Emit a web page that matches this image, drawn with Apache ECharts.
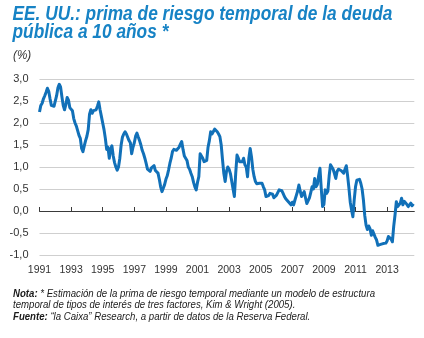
<!DOCTYPE html>
<html>
<head>
<meta charset="utf-8">
<script src="https://cdn.jsdelivr.net/npm/echarts@6/dist/echarts.min.js"></script>
<style>
html,body{margin:0;padding:0;background:#fff;}
#chart{width:424px;height:338px;}
</style>
</head>
<body>
<div id="chart"></div>
<script>
// Monthly series, January 1991 to September 2014 (%)
const startYear = 1991;
const values = [
  // 1991
  2.25, 2.40, 2.45, 2.55, 2.62, 2.70, 2.79, 2.72, 2.55, 2.40, 2.37, 2.38,
  // 1992
  2.38, 2.62, 2.80, 2.88, 2.82, 2.60, 2.40, 2.30, 2.42, 2.58, 2.52, 2.35,
  // 1993
  2.35, 2.28, 2.10, 2.00, 1.93, 1.90, 1.72, 1.65, 1.42, 1.35, 1.48, 1.60,
  // 1994
  1.70, 1.85, 2.20, 2.30, 2.22, 2.28, 2.25, 2.30, 2.38, 2.48, 2.30, 2.15,
  // 1995
  2.00, 1.85, 1.65, 1.40, 1.45, 1.20, 1.40, 1.48, 1.25, 1.10, 1.00, 0.93,
  // 1996
  1.00, 1.20, 1.50, 1.68, 1.75, 1.80, 1.75, 1.72, 1.60, 1.55, 1.30, 1.45,
  // 1997
  1.55, 1.70, 1.77, 1.68, 1.60, 1.50, 1.38, 1.30, 1.20, 1.08, 0.95, 0.92,
  // 1998
  0.90, 0.98, 1.00, 1.03, 0.92, 0.88, 0.86, 0.72, 0.55, 0.44, 0.52, 0.60,
  // 1999
  0.72, 0.80, 0.93, 1.08, 1.20, 1.35, 1.40, 1.42, 1.38, 1.35, 1.45, 1.52,
  // 2000
  1.58, 1.40, 1.25, 1.20, 1.15, 1.00, 0.95, 0.86, 0.78, 0.65, 0.55, 0.48,
  // 2001
  0.65, 0.78, 1.30, 1.25, 1.20, 1.12, 1.08, 1.15, 1.45, 1.60, 1.80, 1.75,
  // 2002
  1.78, 1.86, 1.84, 1.80, 1.75, 1.69, 1.50, 1.16, 0.85, 0.67, 0.90, 1.00,
  // 2003
  0.95, 0.85, 0.82, 0.50, 0.33, 0.85, 1.27, 1.20, 1.12, 1.08, 1.12, 1.20,
  // 2004
  1.05, 1.00, 0.78, 1.20, 1.42, 1.23, 0.95, 0.78, 0.67, 0.62, 0.59, 0.63,
  // 2005
  0.63, 0.63, 0.55, 0.48, 0.33, 0.29, 0.35, 0.40, 0.44, 0.38, 0.30, 0.33,
  // 2006
  0.36, 0.40, 0.48, 0.44, 0.46, 0.40, 0.33, 0.28, 0.25, 0.21, 0.18, 0.14,
  // 2007
  0.20, 0.14, 0.25, 0.35, 0.45, 0.59, 0.45, 0.33, 0.38, 0.44, 0.30, 0.17,
  // 2008
  0.20, 0.30, 0.42, 0.55, 0.50, 0.74, 0.55, 0.60, 0.80, 0.97, 0.50, 0.10,
  // 2009
  0.15, 0.48, 0.40, 0.45, 0.80, 1.05, 1.00, 0.95, 0.85, 0.74, 0.90, 0.95,
  // 2010
  0.97, 0.92, 0.88, 0.86, 0.95, 1.03, 0.80, 0.52, 0.20, 0.02, -0.13, 0.25,
  // 2011
  0.55, 0.70, 0.74, 0.72, 0.63, 0.50, 0.25, -0.10, -0.32, -0.42, -0.34, -0.40,
  // 2012
  -0.55, -0.45, -0.42, -0.60, -0.66, -0.78, -0.81, -0.76, -0.73, -0.74, -0.77, -0.73,
  // 2013
  -0.68, -0.58, -0.55, -0.64, -0.70, -0.35, -0.09, 0.21, 0.10, 0.06, 0.18, 0.29,
  // 2014
  0.14, 0.22, 0.21, 0.15, 0.10, 0.14, 0.18, 0.12, 0.16
];
const yearTicks = [1991, 1993, 1995, 1997, 1999, 2001, 2003, 2005, 2007, 2009, 2011, 2013];
const yTicks = [-1, -0.5, 0, 0.5, 1, 1.5, 2, 2.5, 3];

const titleLine1 = 'EE. UU.: prima de riesgo temporal de la deuda';
const titleLine2 = 'pública a 10 años *';
const unitText = '(%)';
const noteLabel = 'Nota:';
const noteText1 = ' * Estimación de la prima de riesgo temporal mediante un modelo de estructura';
const noteText2 = 'temporal de tipos de interés de tres factores, Kim & Wright (2005).';
const sourceLabel = 'Fuente:';
const sourceText = ' “la Caixa” Research, a partir de datos de la Reserva Federal.';

const seriesData = values.map((v, i) => [startYear + i / 12, v]);

const FONT = '"Liberation Sans", Arial, sans-serif';
const ctx = document.createElement('canvas').getContext('2d');
function measure(text, style, weight, size) {
  ctx.font = style + ' ' + weight + ' ' + size + 'px ' + FONT;
  return ctx.measureText(text).width;
}
// horizontal compression to imitate the condensed typeface
const titleSize = 19.5;
const titleScale = 380 / measure(titleLine1, 'italic', 'bold', titleSize);
const noteSize = 10;
const noteWidth = measure(noteLabel, 'italic', 'bold', noteSize) + measure(noteText1, 'italic', 'normal', noteSize);
const noteScale = 362 / noteWidth;

const titleStyle = {
  fill: '#1783c5', fontSize: titleSize, fontWeight: 'bold', fontStyle: 'italic',
  fontFamily: FONT, verticalAlign: 'top'
};

const chart = echarts.init(document.getElementById('chart'), null, {renderer: 'canvas'});
chart.setOption({
  animation: false,
  backgroundColor: '#ffffff',
  grid: {left: 39.5, right: 9.7, top: 79, bottom: 83, containLabel: false},
  xAxis: [
    {
      type: 'value', min: 1991, max: 2014.72, interval: 2,
      axisLine: {show: true, onZero: true, lineStyle: {color: '#3a3a3a', width: 1}},
      axisTick: {show: true, inside: true, length: 4, customValues: yearTicks, lineStyle: {color: '#3a3a3a'}},
      axisLabel: {show: false},
      splitLine: {show: false}
    },
    {
      type: 'value', min: 1991, max: 2014.72, interval: 2, position: 'bottom',
      axisLine: {show: false, onZero: false},
      axisTick: {show: false},
      axisLabel: {
        show: true, customValues: yearTicks, margin: 10,
        color: '#333', fontSize: 10.5, fontFamily: FONT,
        formatter: v => String(Math.round(v))
      },
      splitLine: {show: false}
    }
  ],
  yAxis: {
    type: 'value', min: -1, max: 3, interval: 0.5,
    axisLine: {show: false},
    axisTick: {show: false},
    axisLabel: {
      margin: 11, color: '#333', fontSize: 11, fontFamily: FONT,
      customValues: yTicks,
      formatter: v => v.toFixed(1).replace('.', ',')
    },
    splitLine: {show: true, lineStyle: {color: '#cfcfcf', width: 1}}
  },
  series: [{
    type: 'line',
    xAxisIndex: 0,
    data: seriesData,
    showSymbol: false,
    symbol: 'none',
    clip: false,
    lineStyle: {color: '#1170b8', width: 3, join: 'round'},
    z: 5
  }],
  graphic: [
    {
      type: 'text', x: 12.5, y: 5, scaleX: titleScale,
      style: Object.assign({text: titleLine1}, titleStyle)
    },
    {
      type: 'text', x: 12.5, y: 22.5, scaleX: titleScale,
      style: Object.assign({text: titleLine2}, titleStyle)
    },
    {
      type: 'text', x: 13, y: 49, scaleX: 0.9,
      style: {text: unitText, fill: '#333', fontSize: 13, fontStyle: 'italic', fontFamily: FONT, verticalAlign: 'top'}
    },
    {
      type: 'text', x: 13, y: 288, scaleX: noteScale,
      style: {
        text: '{b|' + noteLabel + '}{r|' + noteText1 + '}\n{r|' + noteText2 + '}\n{b|' + sourceLabel + '}{r|' + sourceText + '}',
        verticalAlign: 'top',
        lineHeight: 11.5,
        rich: {
          b: {fontWeight: 'bold', fontStyle: 'italic', fontSize: noteSize, fill: '#1a1a1a', fontFamily: FONT, lineHeight: 11.5},
          r: {fontStyle: 'italic', fontSize: noteSize, fill: '#1a1a1a', fontFamily: FONT, lineHeight: 11.5}
        }
      }
    }
  ]
});
</script>
</body>
</html>
